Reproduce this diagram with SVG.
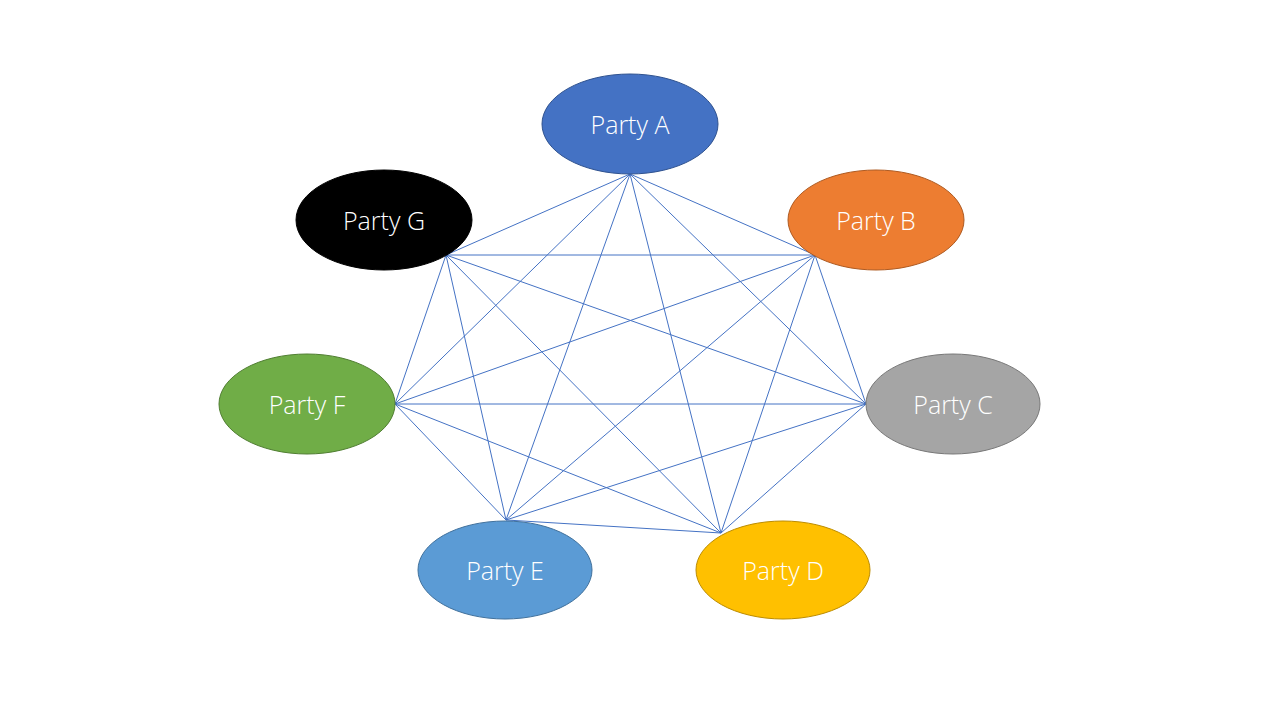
<svg xmlns="http://www.w3.org/2000/svg" width="1280" height="720" viewBox="0 0 1280 720">
<style>
.edge{stroke:#4472C4;stroke-width:1;fill:none}
.lbl{font-family:"Open Sans","Liberation Sans",sans-serif;font-size:25px;font-weight:300;fill:#FFFFFF;text-anchor:middle;dominant-baseline:central}
.n{stroke-width:1}
</style>
<rect width="1280" height="720" fill="#FFFFFF"/>
<g id="connectors">
<line class="edge" x1="630" y1="174" x2="815" y2="255"/>
<line class="edge" x1="630" y1="174" x2="866" y2="404"/>
<line class="edge" x1="630" y1="174" x2="721" y2="533"/>
<line class="edge" x1="630" y1="174" x2="506" y2="520"/>
<line class="edge" x1="630" y1="174" x2="395" y2="404"/>
<line class="edge" x1="630" y1="174" x2="446" y2="255"/>
<line class="edge" x1="815" y1="255" x2="866" y2="404"/>
<line class="edge" x1="815" y1="255" x2="721" y2="533"/>
<line class="edge" x1="815" y1="255" x2="506" y2="520"/>
<line class="edge" x1="815" y1="255" x2="395" y2="404"/>
<line class="edge" x1="815" y1="255" x2="446" y2="255"/>
<line class="edge" x1="866" y1="404" x2="721" y2="533"/>
<line class="edge" x1="866" y1="404" x2="506" y2="520"/>
<line class="edge" x1="866" y1="404" x2="395" y2="404"/>
<line class="edge" x1="866" y1="404" x2="446" y2="255"/>
<line class="edge" x1="721" y1="533" x2="506" y2="520"/>
<line class="edge" x1="721" y1="533" x2="395" y2="404"/>
<line class="edge" x1="721" y1="533" x2="446" y2="255"/>
<line class="edge" x1="506" y1="520" x2="395" y2="404"/>
<line class="edge" x1="506" y1="520" x2="446" y2="255"/>
<line class="edge" x1="395" y1="404" x2="446" y2="255"/>
</g>
<g id="partyA"><ellipse class="n" cx="630" cy="124" rx="88" ry="50" fill="#4472C4" stroke="#2F528F"/><text class="lbl" x="630" y="124">Party A</text></g>
<g id="partyB"><ellipse class="n" cx="876" cy="220" rx="88" ry="50" fill="#ED7D31" stroke="#AE5A21"/><text class="lbl" x="876" y="220">Party B</text></g>
<g id="partyC"><ellipse class="n" cx="953" cy="404" rx="87" ry="50" fill="#A5A5A5" stroke="#787878"/><text class="lbl" x="953" y="404">Party C</text></g>
<g id="partyD"><ellipse class="n" cx="783" cy="570" rx="87" ry="49" fill="#FFC000" stroke="#BC8C00"/><text class="lbl" x="783" y="570">Party D</text></g>
<g id="partyE"><ellipse class="n" cx="505" cy="570" rx="87" ry="49" fill="#5B9BD5" stroke="#41719C"/><text class="lbl" x="505" y="570">Party E</text></g>
<g id="partyF"><ellipse class="n" cx="307" cy="404" rx="88" ry="50" fill="#70AD47" stroke="#507E32"/><text class="lbl" x="307" y="404">Party F</text></g>
<g id="partyG"><ellipse class="n" cx="384" cy="220" rx="88" ry="50" fill="#000000" stroke="#000000"/><text class="lbl" x="384" y="220">Party G</text></g>
</svg>
